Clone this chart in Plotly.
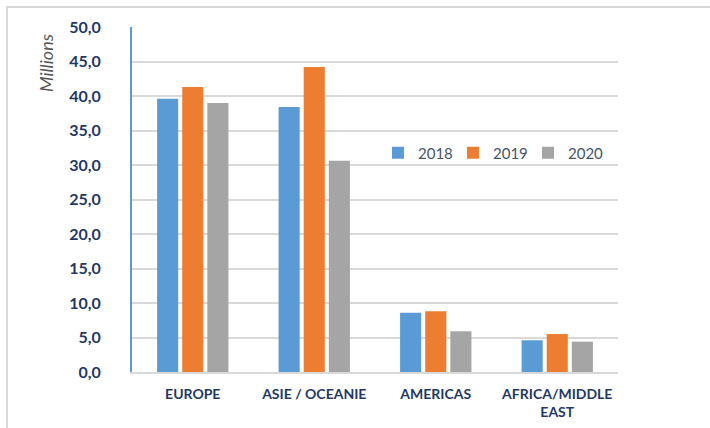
import plotly.graph_objects as go

categories = ["EUROPE", "ASIE / OCEANIE", "AMERICAS", "AFRICA/MIDDLE<br>EAST"]
years = ["2018", "2019", "2020"]
v2018 = [39.6, 38.4, 8.6, 4.6]
v2019 = [41.3, 44.2, 8.8, 5.5]
v2020 = [39.0, 30.6, 5.9, 4.4]
colors = ["#5B9BD5", "#ED7D31", "#A5A5A5"]
y_ticks = [0, 5, 10, 15, 20, 25, 30, 35, 40, 45, 50]

fig = go.Figure()
for name, vals, col in zip(years, [v2018, v2019, v2020], colors):
    fig.add_trace(go.Bar(x=categories, y=vals, name=name,
                         marker=dict(color=col, line=dict(width=0))))

W, H = 710, 428
L, R, T, B = 132, 92, 27, 56
pw, ph = W - L - R, H - T - B

def px2x(px):
    return (px - L) / pw

def py2y(py):
    return 1 - (py - T) / ph

fig.update_layout(
    width=W, height=H,
    margin=dict(l=L, r=R, t=T, b=B),
    paper_bgcolor="white", plot_bgcolor="white",
    separators=", ",
    barmode="group", bargap=0.38, bargroupgap=0.16,
    font=dict(family="Lato, Open Sans, sans-serif"),
    legend=dict(orientation="h", x=px2x(378), y=py2y(153), yanchor="middle",
                xanchor="left", font=dict(size=15, color="#44546A"),
                entrywidth=30, entrywidthmode="pixels",
                bgcolor="rgba(0,0,0,0)", traceorder="normal"),
    xaxis=dict(showgrid=False, showline=True, linecolor="#D9D9D9", linewidth=2,
               ticks="", ticklabelstandoff=8, automargin=False,
               tickfont=dict(size=14, color="#1F3864", family="Lato, sans-serif",
                             weight="bold")),
    yaxis=dict(range=[0, 50], tickvals=y_ticks, tickformat=".1f",
               showgrid=True, gridcolor="#D9D9D9", gridwidth=2,
               showline=True, linecolor="#5B9BD5", linewidth=2,
               zeroline=False, ticks="", ticklabelstandoff=26, automargin=False,
               tickfont=dict(size=16, color="#1F3864", family="Lato, sans-serif",
                             weight="bold")),
    annotations=[dict(text="<i>Millions</i>", textangle=-90, xref="paper", yref="paper",
                      x=px2x(46), y=py2y(63), xanchor="center", yanchor="middle",
                      showarrow=False,
                      font=dict(size=18, color="#595959"))],
    shapes=[dict(type="path", xref="paper", yref="paper",
                 path=f"M {px2x(7)},{py2y(440)} L {px2x(7)},{py2y(7)} L {px2x(720)},{py2y(7)}",
                 line=dict(color="#D9D9D9", width=2))],
)

fig.write_html("out.html")
